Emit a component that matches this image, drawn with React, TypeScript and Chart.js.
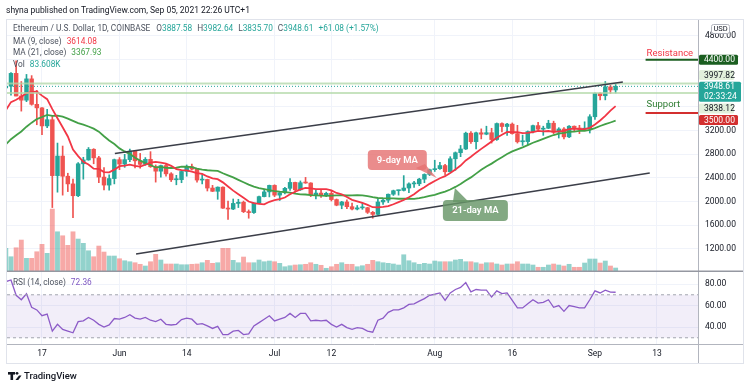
import React, { useEffect, useRef } from 'react';
import { Chart, registerables } from 'chart.js';

Chart.register(...registerables);

// ---------- DATA (daily candles, 2021-05-10 .. 2021-09-05, index 0..118) ----------
const opens = [
  3924, 3951, 4168, 3785, 3715, 4075, 3645, 3585, 3280, 3385,
  2440, 2770, 2430, 2300, 2100, 2640, 2705, 2885, 2740, 2415,
  2280, 2390, 2710, 2635, 2710, 2855, 2690, 2630, 2715, 2590,
  2515, 2610, 2470, 2370, 2372, 2510, 2590, 2550, 2365, 2375,
  2230, 2175, 2245, 1890, 1875, 1970, 1990, 1830, 1815, 1975,
  2085, 2165, 2275, 2110, 2150, 2225, 2325, 2200, 2320, 2315,
  2115, 2145, 2110, 2140, 2035, 1940, 1995, 1915, 1875, 1895,
  1898, 1820, 1785, 1995, 2025, 2125, 2185, 2190, 2230, 2300,
  2302, 2380, 2460, 2540, 2557, 2610, 2505, 2725, 2827, 2890,
  3157, 3013, 3164, 3140, 3165, 3050, 3320, 3270, 3310, 3150,
  3012, 3015, 3185, 3285, 3225, 3240, 3325, 3175, 3228, 3095,
  3275, 3245, 3225, 3227, 3435, 3830, 3790, 3940, 3887.58,
];
const highs = [
  4198, 4180, 4380, 4030, 4150, 4130, 3880, 3590, 3560, 3440,
  2990, 2940, 2480, 2380, 2660, 2750, 2915, 2895, 2765, 2575,
  2455, 2720, 2745, 2800, 2890, 2860, 2815, 2745, 2845, 2620,
  2620, 2630, 2490, 2445, 2525, 2620, 2635, 2555, 2460, 2380,
  2275, 2250, 2250, 2010, 2045, 2040, 2010, 1860, 1980, 2095,
  2210, 2280, 2285, 2155, 2240, 2390, 2330, 2350, 2410, 2320,
  2190, 2190, 2160, 2175, 2045, 2005, 2030, 1975, 1935, 1970,
  1905, 1835, 2040, 2045, 2130, 2195, 2195, 2440, 2320, 2345,
  2395, 2470, 2550, 2700, 2665, 2630, 2760, 2840, 2950, 3175,
  3185, 3175, 3230, 3275, 3240, 3330, 3330, 3325, 3330, 3290,
  3125, 3195, 3295, 3340, 3275, 3375, 3360, 3250, 3250, 3285,
  3280, 3290, 3350, 3470, 3840, 3840, 4030, 3965, 3982.64,
];
const lows = [
  3700, 3800, 3785, 3530, 3690, 3630, 3300, 3130, 3250, 1900,
  2160, 2110, 2170, 1730, 2085, 2380, 2700, 2640, 2320, 2200,
  2195, 2300, 2540, 2580, 2675, 2570, 2565, 2615, 2580, 2330,
  2415, 2430, 2340, 2285, 2320, 2430, 2535, 2330, 2300, 2180,
  2170, 2040, 1885, 1700, 1865, 1900, 1815, 1720, 1800, 1965,
  2080, 2080, 2085, 2020, 2130, 2190, 2160, 2190, 2310, 2085,
  2045, 2070, 2085, 2010, 1930, 1880, 1880, 1860, 1860, 1870,
  1800, 1720, 1775, 1955, 1985, 2105, 2110, 2180, 2150, 2240,
  2270, 2320, 2440, 2510, 2545, 2450, 2500, 2530, 2760, 2880,
  2985, 2890, 3060, 3130, 2990, 3035, 3180, 3120, 3140, 2990,
  2950, 2960, 3160, 3210, 3120, 3235, 3150, 3075, 3060, 3080,
  3200, 3150, 3220, 3160, 3390, 3720, 3720, 3830, 3835.70,
];
const closes = [
  3951, 4168, 3785, 3715, 4075, 3645, 3585, 3280, 3385, 2440,
  2770, 2430, 2300, 2100, 2640, 2705, 2885, 2740, 2415, 2280,
  2390, 2710, 2635, 2710, 2855, 2690, 2630, 2715, 2590, 2515,
  2610, 2470, 2370, 2372, 2510, 2590, 2550, 2365, 2375, 2230,
  2175, 2245, 1890, 1875, 1970, 1990, 1830, 1815, 1975, 2085,
  2165, 2275, 2110, 2150, 2225, 2325, 2200, 2320, 2315, 2115,
  2145, 2110, 2140, 2035, 1940, 1995, 1915, 1875, 1895, 1898,
  1820, 1785, 1995, 2025, 2125, 2185, 2190, 2230, 2300, 2302,
  2380, 2460, 2540, 2557, 2610, 2505, 2725, 2827, 2890, 3157,
  3013, 3164, 3140, 3165, 3050, 3320, 3270, 3310, 3150, 3012,
  3015, 3185, 3285, 3225, 3240, 3325, 3175, 3228, 3095, 3275,
  3245, 3225, 3227, 3435, 3830, 3790, 3940, 3887.58, 3948.61,
];
const volumesK = [
  498, 321, 510, 672, 288, 288, 426, 582, 393, 1323,
  846, 762, 561, 846, 693, 603, 447, 321, 546, 420,
  336, 336, 279, 237, 216, 195, 162, 126, 216, 372,
  252, 168, 168, 168, 153, 153, 162, 168, 195, 246,
  183, 195, 498, 498, 246, 195, 315, 195, 195, 252,
  216, 231, 216, 183, 111, 132, 147, 153, 162, 195,
  162, 141, 78, 111, 162, 195, 162, 162, 111, 132,
  162, 246, 216, 195, 183, 168, 147, 363, 237, 195,
  162, 183, 168, 231, 216, 216, 216, 252, 267, 216,
  216, 195, 168, 195, 195, 168, 147, 168, 168, 216,
  168, 168, 147, 99, 99, 147, 168, 147, 126, 162,
  99, 99, 189, 273, 273, 189, 231, 126, 83.608,
];
const ma9 = [
  3546, 3682, 3721, 3772, 3833, 3850, 3862, 3792, 3732, 3564,
  3409, 3258, 3101, 2882, 2770, 2672, 2628, 2557, 2554, 2499,
  2495, 2541, 2600, 2608, 2624, 2603, 2591, 2624, 2658, 2672,
  2661, 2643, 2605, 2551, 2531, 2527, 2508, 2483, 2468, 2426,
  2393, 2379, 2326, 2255, 2186, 2124, 2064, 2002, 1974, 1964,
  1955, 1998, 2024, 2044, 2070, 2125, 2168, 2206, 2232, 2226,
  2212, 2212, 2211, 2189, 2147, 2124, 2079, 2030, 2006, 1978,
  1946, 1906, 1902, 1911, 1926, 1956, 1991, 2028, 2073, 2126,
  2192, 2244, 2301, 2349, 2396, 2431, 2486, 2545, 2610, 2697,
  2758, 2828, 2892, 2954, 3015, 3081, 3130, 3177, 3176, 3176,
  3159, 3164, 3177, 3197, 3188, 3194, 3179, 3188, 3197, 3226,
  3233, 3226, 3226, 3248, 3304, 3372, 3451, 3539, 3614.08,
];
const ma21 = [
  2968, 3055, 3123, 3186, 3267, 3335, 3396, 3431, 3466, 3451,
  3452, 3435, 3404, 3364, 3326, 3300, 3270, 3234, 3183, 3106,
  3033, 2973, 2900, 2849, 2808, 2742, 2694, 2653, 2620, 2578,
  2586, 2572, 2569, 2573, 2592, 2590, 2582, 2558, 2540, 2531,
  2526, 2520, 2480, 2444, 2409, 2368, 2327, 2288, 2253, 2229,
  2212, 2196, 2179, 2169, 2162, 2153, 2134, 2123, 2121, 2109,
  2105, 2101, 2096, 2103, 2106, 2108, 2104, 2106, 2110, 2106,
  2094, 2075, 2062, 2058, 2057, 2055, 2049, 2050, 2049, 2048,
  2061, 2076, 2096, 2116, 2144, 2171, 2205, 2249, 2297, 2357,
  2410, 2474, 2539, 2595, 2643, 2700, 2752, 2805, 2849, 2883,
  2917, 2955, 2995, 3027, 3060, 3094, 3126, 3150, 3163, 3181,
  3185, 3195, 3198, 3212, 3244, 3279, 3309, 3338, 3367.93,
];
const rsi14 = [
  82.2, 83.8, 69.5, 65.4, 71, 58.4, 55.9, 50.5, 52, 36.2,
  42.5, 37.8, 36.2, 34.6, 45, 45.7, 48.9, 46.3, 42.5, 40,
  41.9, 47.9, 47.3, 48.9, 51.4, 48.3, 47.3, 48.9, 46.3, 45,
  47.3, 42.5, 41.9, 42.5, 47, 48.3, 47.3, 42.5, 43.2, 41,
  38.7, 40.6, 33, 33, 36.2, 36.8, 33, 33.6, 41, 44.1,
  47.3, 50.5, 45.7, 47.3, 48.9, 52.7, 48.9, 52.7, 52.7, 45.7,
  46.3, 45.7, 46.3, 42.5, 40, 42.5, 39.4, 37.8, 39.4, 38.7,
  36.2, 35.2, 46.3, 48.3, 53.7, 55.9, 55.9, 57.8, 61, 61.6,
  64.1, 66.4, 69.5, 70.5, 71.7, 64.8, 71.7, 74.9, 76.8, 81.3,
  72.7, 74.9, 74.3, 74.3, 67.9, 73.7, 71.1, 71.7, 64.8, 57.8,
  57.8, 61.6, 65.4, 62.2, 62.9, 65.4, 58.4, 60, 54.6, 60,
  59, 57.8, 57.8, 65.4, 73.7, 71.7, 74.3, 72.4, 72.36,
];

const dateTickIndex = [7, 22, 35, 52, 63, 83, 98, 114, 126];
const dateTickLabels = ['17', 'Jun', '14', 'Jul', '12', 'Aug', '16', 'Sep', '13'];
const priceTicks = [1200, 1600, 2000, 2400, 2800, 3200, 3600, 4000, 4400, 4800];
const hiddenPriceTicks = [3600, 4000, 4400];
const rsiTicks = [40, 60, 80];
const rsiBand = [70, 30];
const upperChannel = [{ x: 21.1, y: 2814 }, { x: 119.4, y: 4022 }];
const lowerChannel = [{ x: 25.2, y: 1115 }, { x: 124.6, y: 2484 }];
const resistanceLevel = 4400;
const supportLevel = 3500;
const levelLineStart = 123.8;
const markedLevels = [3997.82, 3838.12];
const lastPrice = 3948.61;
const ma9Note = { label: '9-day MA', at: 83.4, price: 2400 };
const ma21Note = { label: '21-day MA', at: 86.9, price: 2231 };

// ---------- STYLE ----------
const FONT = 'Roboto, "Liberation Sans", Arial, sans-serif';
const TEXT = '#131722';
const MUTED = '#4c525e';
const UP = '#26a69a';
const DOWN = '#ef5350';
const GRID = '#f0f3fa';
const X_MIN = 0.23;
const X_MAX = 133.94;

const xTicksHook = (scale: any) => {
  scale.ticks = dateTickIndex.map((v) => ({ value: v }));
};

function segs(ctx: CanvasRenderingContext2D, x: number, y: number, parts: [string, string, number?][]) {
  let cx = x;
  for (const [t, c, gap] of parts) {
    cx += gap || 0;
    ctx.fillStyle = c;
    ctx.fillText(t, cx, y);
    cx += ctx.measureText(t).width;
  }
}

function priceBox(ctx: CanvasRenderingContext2D, left: number, cy: number, text: string, fill: string, color: string, w: number) {
  ctx.fillStyle = fill;
  ctx.beginPath();
  ctx.roundRect(left, cy - 5, w, 10, 1.5);
  ctx.fill();
  ctx.fillStyle = color;
  ctx.textBaseline = 'middle';
  ctx.fillText(text, left + 5, cy + 0.5);
}

const mainOverlay = {
  id: 'mainOverlay',
  afterDraw(chart: any) {
    const { ctx, chartArea } = chart;
    const xs = chart.scales.x;
    const ys = chart.scales.y;
    const yp = (v: number) => ys.getPixelForValue(v);
    const xp = (v: number) => xs.getPixelForValue(v);
    const R = chartArea.right;
    ctx.save();

    // axis border and pane separator
    ctx.strokeStyle = '#b2b5be';
    ctx.lineWidth = 1;
    ctx.beginPath();
    ctx.moveTo(R + 0.5, 19);
    ctx.lineTo(R + 0.5, 272);
    ctx.stroke();
    ctx.strokeStyle = '#9598a1';
    ctx.lineWidth = 1.5;
    ctx.beginPath();
    ctx.moveTo(6, 271.25);
    ctx.lineTo(743, 271.25);
    ctx.stroke();

    // header
    ctx.textBaseline = 'middle';
    ctx.font = `8.5px ${FONT}`;
    ctx.fillStyle = TEXT;
    ctx.fillText('shyna published on TradingView.com, Sep 05, 2021 22:26 UTC+1', 6, 11);

    ctx.font = `8.3px ${FONT}`;
    segs(ctx, 13, 29, [
      ['Ethereum / U.S. Dollar, 1D, COINBASE', MUTED],
      ['O', MUTED, 6], ['3887.58', UP],
      ['H', MUTED, 5], ['3982.64', UP],
      ['L', MUTED, 5], ['3835.70', UP],
      ['C', MUTED, 5], ['3948.61', UP],
      ['+61.08 (+1.57%)', UP, 5],
    ]);
    segs(ctx, 13, 41.5, [['MA (9, close)', MUTED], ['3614.08', '#f23645', 5]]);
    segs(ctx, 13, 53, [['MA (21, close)', MUTED], ['3367.93', '#43a047', 5]]);
    segs(ctx, 13, 64.5, [['Vol', MUTED], ['83.608K', UP, 5]]);

    // Resistance / Support labels
    ctx.font = `9.5px ${FONT}`;
    ctx.fillStyle = '#f23645';
    ctx.fillText('Resistance', xp(levelLineStart) + 1, yp(resistanceLevel) - 6.5);
    ctx.fillStyle = '#2e7d32';
    ctx.fillText('Support', xp(levelLineStart) + 1, yp(supportLevel) - 7.8);

    // MA callouts
    const callout = (note: any, fill: string, dx: number, dy: number, w: number, h: number, wedge: number[]) => {
      const tx = xp(note.at);
      const ty = yp(note.price);
      const bx = tx + dx;
      const by = ty + dy;
      ctx.fillStyle = fill;
      ctx.beginPath();
      ctx.moveTo(bx + wedge[0], by + wedge[1]);
      ctx.lineTo(tx, ty);
      ctx.lineTo(bx + wedge[2], by + wedge[3]);
      ctx.closePath();
      ctx.fill();
      ctx.beginPath();
      ctx.roundRect(bx, by, w, h, 4);
      ctx.fill();
      ctx.fillStyle = '#ffffff';
      ctx.font = `600 9.5px ${FONT}`;
      ctx.textAlign = 'center';
      ctx.fillText(note.label, bx + w / 2, by + h / 2 + 0.5);
      ctx.textAlign = 'left';
    };
    callout(ma9Note, 'rgba(229,115,115,0.82)', -69, -28, 59, 20, [48, 18, 57, 14]);
    callout(ma21Note, 'rgba(104,150,104,0.82)', -12, 12, 65, 21, [10, 2, 26, 2]);

    // price scale labels
    ctx.font = `8.5px ${FONT}`;
    const L = R + 1;
    priceBox(ctx, L, yp(resistanceLevel), '4400.00', '#1b5e20', '#ffffff', 39);
    priceBox(ctx, L, yp(markedLevels[0]) - 8.5, '3997.82', '#e2f0dc', TEXT, 35);
    // last price box
    const top = yp(lastPrice) - 4.5;
    ctx.fillStyle = UP;
    ctx.beginPath();
    ctx.roundRect(L, top, 42, 20, 1.5);
    ctx.fill();
    ctx.fillStyle = '#ffffff';
    ctx.fillText('3948.61', L + 5, top + 5.5);
    ctx.fillText('02:33:24', L + 5, top + 15);
    priceBox(ctx, L, yp(markedLevels[1]) + 15.5, '3838.12', '#e2f0dc', TEXT, 35);
    priceBox(ctx, L, yp(supportLevel) + 7, '3500.00', '#d32f2f', '#ffffff', 39);

    // USD badge
    ctx.fillStyle = '#ffffff';
    ctx.strokeStyle = '#b2b5be';
    ctx.lineWidth = 1;
    ctx.beginPath();
    ctx.roundRect(R + 13.5, 24.5, 18, 9, 2);
    ctx.fill();
    ctx.stroke();
    ctx.fillStyle = TEXT;
    ctx.font = `7.5px ${FONT}`;
    ctx.textAlign = 'center';
    ctx.fillText('USD', R + 22.5, 29.3);
    ctx.restore();
  },
};

const rsiOverlay = {
  id: 'rsiOverlay',
  afterDraw(chart: any) {
    const { ctx, chartArea } = chart;
    const R = chartArea.right;
    ctx.save();
    ctx.strokeStyle = '#b2b5be';
    ctx.lineWidth = 1;
    ctx.beginPath();
    ctx.moveTo(R + 0.5, 0);
    ctx.lineTo(R + 0.5, 91);
    ctx.moveTo(6, chartArea.bottom + 0.5);
    ctx.lineTo(743, chartArea.bottom + 0.5);
    ctx.stroke();

    ctx.textBaseline = 'middle';
    ctx.font = `8.3px ${FONT}`;
    segs(ctx, 13, 11, [['RSI (14, close)', MUTED], ['72.36', '#7e57c2', 5]]);

    // TradingView logo
    ctx.fillStyle = TEXT;
    ctx.fillRect(8, 100, 7, 2.6);
    ctx.fillRect(10.5, 100, 2.6, 8);
    ctx.beginPath();
    ctx.arc(17, 101.3, 1.4, 0, Math.PI * 2);
    ctx.fill();
    ctx.beginPath();
    ctx.moveTo(15.5, 108);
    ctx.lineTo(19, 103.5);
    ctx.lineTo(21.5, 103.5);
    ctx.lineTo(18.3, 108);
    ctx.closePath();
    ctx.fill();
    ctx.font = `500 9.5px ${FONT}`;
    ctx.fillText('TradingView', 24, 104.5);
    ctx.restore();
  },
};

function mainConfig(): any {
  const isUp = closes.map((c, i) => c >= opens[i]);
  const candleColor = isUp.map((u) => (u ? UP : DOWN));
  const volColor = isUp.map((u) => (u ? 'rgba(38,166,154,0.5)' : 'rgba(239,83,80,0.5)'));
  const line = (data: any[], color: string, width: number, order: number, dash: number[] = []) => ({
    type: 'line', data, borderColor: color, borderWidth: width, borderDash: dash,
    pointRadius: 0, fill: false, order, yAxisID: 'y', tension: 0,
  });
  const across = (v: number) => [{ x: X_MIN, y: v }, { x: X_MAX, y: v }];
  return {
    type: 'bar',
    data: {
      datasets: [
        { type: 'bar', data: volumesK.map((v, i) => ({ x: i, y: v })), yAxisID: 'yVol', backgroundColor: volColor, borderWidth: 0, barThickness: 4.2, grouped: false, order: 20 },
        { type: 'bar', data: lows.map((l, i) => ({ x: i, y: [l, highs[i]] })), yAxisID: 'y', backgroundColor: candleColor, borderWidth: 0, barThickness: 1, grouped: false, order: 12 },
        { type: 'bar', data: opens.map((o, i) => ({ x: i, y: [o, closes[i]] })), yAxisID: 'y', backgroundColor: candleColor, borderWidth: 0, barThickness: 3.8, minBarLength: 1, grouped: false, order: 11 },
        line(ma21.map((v, i) => ({ x: i, y: v })), '#43a047', 1.8, 6),
        line(ma9.map((v, i) => ({ x: i, y: v })), '#f23645', 1.8, 5),
        line(across(markedLevels[0]), 'rgba(180,218,170,0.75)', 2, 4),
        line(across(markedLevels[1]), 'rgba(180,218,170,0.75)', 2, 4),
        line(across(lastPrice), UP, 1, 3, [1, 2]),
        line(upperChannel, '#3b3e48', 1.6, 2),
        line(lowerChannel, '#3b3e48', 1.6, 2),
        line([{ x: levelLineStart, y: resistanceLevel }, { x: X_MAX, y: resistanceLevel }], '#1b5e20', 2, 1),
        line([{ x: levelLineStart, y: supportLevel }, { x: X_MAX, y: supportLevel }], '#d32f2f', 2, 1),
      ],
    },
    options: {
      responsive: false,
      animation: false,
      devicePixelRatio: 1,
      events: [],
      layout: { padding: { left: 7, right: 0, top: 20, bottom: 0 }, autoPadding: false },
      plugins: { legend: { display: false }, tooltip: { enabled: false } },
      scales: {
        x: {
          type: 'linear', min: X_MIN, max: X_MAX, offset: false,
          grid: { color: GRID, drawTicks: false, offset: false },
          border: { display: false },
          ticks: { display: false },
          afterBuildTicks: xTicksHook,
          afterFit: (s: any) => { s.height = 0; s.paddingLeft = 0; s.paddingRight = 0; },
        },
        y: {
          type: 'linear', position: 'right', min: 811, max: 5070,
          grid: { color: GRID, drawTicks: false },
          border: { display: false },
          ticks: {
            color: TEXT, padding: 7, font: { family: FONT, size: 8.5 },
            callback: (v: number) => (hiddenPriceTicks.includes(v) ? '' : Number(v).toFixed(2)),
          },
          afterBuildTicks: (s: any) => { s.ticks = priceTicks.map((v) => ({ value: v })); },
          afterFit: (s: any) => { s.width = 52; s.paddingTop = 0; s.paddingBottom = 0; },
        },
        yVol: { type: 'linear', display: false, position: 'left', min: 0, max: 5300 },
      },
    },
    plugins: [mainOverlay],
  };
}

function rsiConfig(): any {
  const across = (v: number) => [{ x: X_MIN, y: v }, { x: X_MAX, y: v }];
  return {
    type: 'line',
    data: {
      datasets: [
        { data: across(rsiBand[0]), borderColor: '#a3a6af', borderWidth: 1, borderDash: [3, 3], pointRadius: 0, fill: false },
        { data: across(rsiBand[1]), borderColor: '#a3a6af', borderWidth: 1, borderDash: [3, 3], pointRadius: 0, fill: '-1', backgroundColor: 'rgba(126,87,194,0.1)' },
        { data: rsi14.map((v, i) => ({ x: i, y: v })), borderColor: '#8e5cc8', borderWidth: 1.3, pointRadius: 0, fill: false, tension: 0 },
      ],
    },
    options: {
      responsive: false,
      animation: false,
      devicePixelRatio: 1,
      events: [],
      layout: { padding: { left: 7, right: 0, top: 0, bottom: 24 }, autoPadding: false },
      plugins: { legend: { display: false }, tooltip: { enabled: false } },
      scales: {
        x: {
          type: 'linear', min: X_MIN, max: X_MAX, offset: false,
          grid: { color: GRID, drawTicks: false },
          border: { display: false },
          ticks: {
            color: TEXT, padding: 5, autoSkip: false, maxRotation: 0,
            font: { family: FONT, size: 8.5 },
            callback: (v: number) => dateTickLabels[dateTickIndex.indexOf(v)] ?? '',
          },
          afterBuildTicks: xTicksHook,
          afterFit: (s: any) => { s.height = 20; s.paddingLeft = 0; s.paddingRight = 0; },
        },
        y: {
          type: 'linear', position: 'right', min: 24.2, max: 91.2,
          grid: { color: GRID, drawTicks: false },
          border: { display: false },
          ticks: { color: TEXT, padding: 7, font: { family: FONT, size: 8.5 }, callback: (v: number) => Number(v).toFixed(2) },
          afterBuildTicks: (s: any) => { s.ticks = rsiTicks.map((v) => ({ value: v })); },
          afterFit: (s: any) => { s.width = 52; s.paddingTop = 0; s.paddingBottom = 0; },
        },
      },
    },
    plugins: [rsiOverlay],
  };
}

export default function App() {
  const mainRef = useRef<HTMLCanvasElement>(null);
  const rsiRef = useRef<HTMLCanvasElement>(null);
  useEffect(() => {
    const main = new Chart(mainRef.current as HTMLCanvasElement, mainConfig());
    const rsi = new Chart(rsiRef.current as HTMLCanvasElement, rsiConfig());
    return () => {
      main.destroy();
      rsi.destroy();
    };
  }, []);
  return (
    <div style={{ position: 'absolute', left: 0, top: 0, width: 750, height: 388, background: '#ffffff', overflow: 'hidden' }}>
      <canvas ref={mainRef} width={750} height={272} style={{ position: 'absolute', left: 0, top: 0, width: 750, height: 272 }} />
      <canvas ref={rsiRef} width={750} height={116} style={{ position: 'absolute', left: 0, top: 272, width: 750, height: 116 }} />
      <div style={{ position: 'absolute', left: 6, top: 19, width: 738, height: 345, border: '1px solid #e0e3eb', boxSizing: 'border-box', pointerEvents: 'none' }} />
    </div>
  );
}
